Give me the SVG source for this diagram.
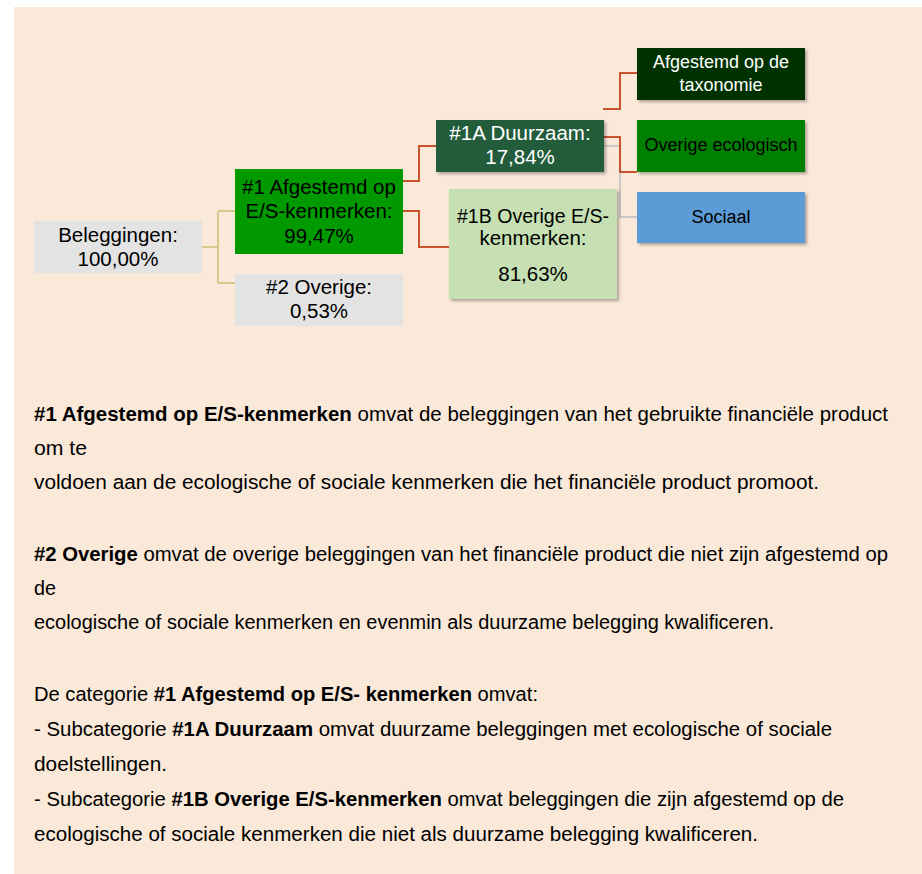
<svg xmlns="http://www.w3.org/2000/svg" width="922" height="874" viewBox="0 0 922 874">
<style>
.n{font-family:"Liberation Sans",Arial,sans-serif;font-size:20.5px;text-anchor:middle;fill:#000}
.s{font-family:"Liberation Sans",Arial,sans-serif;font-size:18px;text-anchor:middle;fill:#000}
.w{fill:#fff}
.b{font-family:"Liberation Sans",Arial,sans-serif;font-size:20px;fill:#000}
.bb{font-weight:bold}
.red{fill:none;stroke:#C9532F;stroke-width:2}
.tan{fill:none;stroke:#D5CA8C;stroke-width:2}
.gry{fill:none;stroke:#BDBDBD;stroke-width:1.5}
</style>
<defs>
<filter id="sh" x="-10%" y="-10%" width="130%" height="140%">
<feDropShadow dx="2" dy="2" stdDeviation="1.5" flood-color="#000" flood-opacity="0.3"/>
</filter>
</defs>
<rect x="14" y="7" width="908" height="867" fill="#FAE8D8"/>

<g id="connectors">
<path class="tan" d="M202,247 H218 M218,211 V283 M218,211 H235 M218,283 H235"/>
<path class="red" d="M403,181 H419 V146 H436"/>
<path class="red" d="M403,211 H419 V247 H449"/>
<path class="red" d="M603,109 H620 V73 H637"/>
<path class="gry" d="M604,146 H620 V217 H637"/>
<path class="red" d="M604,137 H620 V172 H637"/>
</g>

<g id="beleggingen">
<rect x="34" y="221" width="168" height="52" fill="#E3E3E3"/>
<text class="n" x="118" y="242">Beleggingen:</text>
<text class="n" x="118" y="266">100,00%</text>
</g>

<g id="n1">
<rect x="235" y="169" width="168" height="85" fill="#009900"/>
<text class="n" x="319" y="194">#1 Afgestemd op</text>
<text class="n" x="319" y="218">E/S-kenmerken:</text>
<text class="n" x="319" y="243">99,47%</text>
</g>

<g id="n2">
<rect x="235" y="274" width="168" height="52" fill="#E3E3E3"/>
<text class="n" x="319" y="294">#2 Overige:</text>
<text class="n" x="319" y="318">0,53%</text>
</g>

<g id="n1a">
<rect x="436" y="120" width="168" height="52" fill="#235B3A" filter="url(#sh)"/>
<text class="n w" x="520" y="140">#1A Duurzaam:</text>
<text class="n w" x="520" y="164">17,84%</text>
</g>

<g id="n1b">
<rect x="449" y="189" width="168" height="110" fill="#C6E0B4" filter="url(#sh)"/>
<text class="n" x="533" y="223" textLength="152" lengthAdjust="spacingAndGlyphs">#1B Overige E/S-</text>
<text class="n" x="533" y="245">kenmerken:</text>
<text class="n" x="533" y="281">81,63%</text>
</g>

<g id="taxonomie">
<rect x="637" y="48" width="168" height="52" fill="#003300" filter="url(#sh)"/>
<text class="s w" x="721" y="68">Afgestemd op de</text>
<text class="s w" x="721" y="91">taxonomie</text>
</g>

<g id="ecologisch">
<rect x="637" y="120" width="168" height="52" fill="#008000" filter="url(#sh)"/>
<text class="s" x="721" y="151">Overige ecologisch</text>
</g>

<g id="sociaal">
<rect x="637" y="192" width="168" height="51" fill="#5B9BD5" filter="url(#sh)"/>
<text class="s" x="721" y="223">Sociaal</text>
</g>

<g id="body">
<text class="b" x="34" y="421" textLength="854" lengthAdjust="spacingAndGlyphs"><tspan class="bb">#1 Afgestemd op E/S-kenmerken</tspan> omvat de beleggingen van het gebruikte financiële product</text>
<text class="b" x="34" y="455" textLength="53" lengthAdjust="spacingAndGlyphs">om te</text>
<text class="b" x="34" y="489" textLength="785" lengthAdjust="spacingAndGlyphs">voldoen aan de ecologische of sociale kenmerken die het financiële product promoot.</text>
<text class="b" x="34" y="561" textLength="854" lengthAdjust="spacingAndGlyphs"><tspan class="bb">#2 Overige</tspan> omvat de overige beleggingen van het financiële product die niet zijn afgestemd op</text>
<text class="b" x="34" y="595" textLength="22" lengthAdjust="spacingAndGlyphs">de</text>
<text class="b" x="34" y="629" textLength="740" lengthAdjust="spacingAndGlyphs">ecologische of sociale kenmerken en evenmin als duurzame belegging kwalificeren.</text>
<text class="b" x="34" y="701" textLength="504" lengthAdjust="spacingAndGlyphs">De categorie <tspan class="bb">#1 Afgestemd op E/S- kenmerken</tspan> omvat:</text>
<text class="b" x="34" y="736" textLength="798" lengthAdjust="spacingAndGlyphs">- Subcategorie <tspan class="bb">#1A Duurzaam</tspan> omvat duurzame beleggingen met ecologische of sociale</text>
<text class="b" x="34" y="771" textLength="133" lengthAdjust="spacingAndGlyphs">doelstellingen.</text>
<text class="b" x="34" y="806" textLength="810" lengthAdjust="spacingAndGlyphs">- Subcategorie <tspan class="bb">#1B Overige E/S-kenmerken</tspan> omvat beleggingen die zijn afgestemd op de</text>
<text class="b" x="34" y="841" textLength="724" lengthAdjust="spacingAndGlyphs">ecologische of sociale kenmerken die niet als duurzame belegging kwalificeren.</text>
</g>
</svg>
